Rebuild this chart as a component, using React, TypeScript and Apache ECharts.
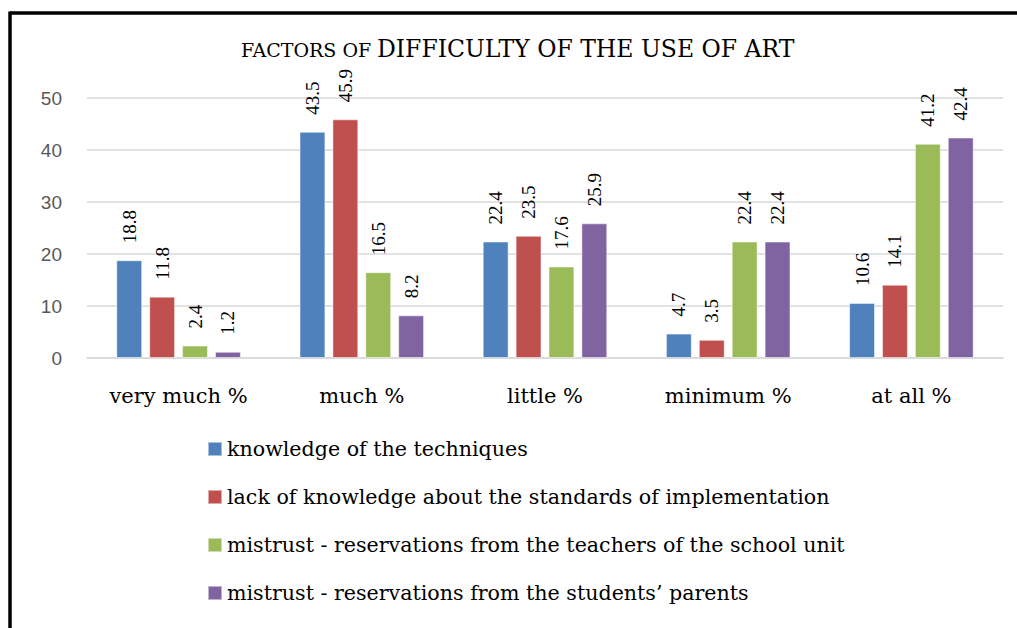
import React, { useEffect, useRef } from "react";
import * as echarts from "echarts";

const categories = ["very much %", "much %", "little %", "minimum %", "at all %"];
const seriesNames = [
  "knowledge of the techniques",
  "lack of knowledge about the standards of implementation",
  "mistrust - reservations from the teachers of the school unit",
  "mistrust - reservations from the students\u2019 parents",
];
const knowledge = [18.8, 43.5, 22.4, 4.7, 10.6];
const lackStandards = [11.8, 45.9, 23.5, 3.5, 14.1];
const mistrustTeachers = [2.4, 16.5, 17.6, 22.4, 41.2];
const mistrustParents = [1.2, 8.2, 25.9, 22.4, 42.4];
const colors = ["#4F81BD", "#C0504D", "#9BBB59", "#8064A2"];
const yTicks = { min: 0, max: 50, interval: 10 };
const titleParts = ["FACTORS OF", "DIFFICULTY OF THE USE OF ART"];

const SERIF = "Liberation Serif";
const WIDE_SERIF = "DejaVu Serif";

export default function App() {
  const ref = useRef<HTMLDivElement>(null);
  useEffect(() => {
    document.body.style.margin = "0";
    if (!ref.current) return;
    const chart = echarts.init(ref.current, undefined, { renderer: "svg" });
    const values = [knowledge, lackStandards, mistrustTeachers, mistrustParents];
    chart.setOption({
      animation: false,
      backgroundColor: "#ffffff",
      title: [
        {
          text: titleParts[0],
          left: 241,
          top: 40,
          padding: 0,
          textStyle: { fontFamily: WIDE_SERIF, fontSize: 19, fontWeight: "normal", color: "#000" },
        },
        {
          text: titleParts[1],
          left: 377,
          top: 37,
          padding: 0,
          textStyle: { fontFamily: WIDE_SERIF, fontSize: 23.5, fontWeight: "normal", color: "#000" },
        },
      ],
      grid: { left: 87, right: 14, top: 98, bottom: 270, containLabel: false },
      legend: {
        orient: "vertical",
        left: 207,
        top: 437,
        padding: 0,
        itemWidth: 14,
        itemHeight: 14,
        itemGap: 24,
        icon: "rect",
        data: seriesNames,
        textStyle: { fontFamily: WIDE_SERIF, fontSize: 20.6, color: "#000", lineHeight: 24 },
      },
      xAxis: {
        type: "category",
        data: categories,
        axisLine: { lineStyle: { color: "#D9D9D9", width: 1.5 } },
        axisTick: { show: false },
        axisLabel: { fontFamily: WIDE_SERIF, fontSize: 21, color: "#000", margin: 27 },
      },
      yAxis: {
        type: "value",
        min: yTicks.min,
        max: yTicks.max,
        interval: yTicks.interval,
        axisLine: { show: false },
        axisTick: { show: false },
        splitLine: { lineStyle: { color: "#D9D9D9", width: 1.5 } },
        axisLabel: {
          fontFamily: "Liberation Sans",
          fontSize: 19,
          color: "#595959",
          margin: 25,
        },
      },
      series: seriesNames.map((name, i) => ({
        name,
        type: "bar",
        data: values[i],
        barGap: "27%",
        barCategoryGap: "32%",
        itemStyle: { color: colors[i], borderColor: "rgba(255,255,255,0.5)", borderWidth: 1 },
        label: {
          show: true,
          position: "top",
          rotate: 90,
          align: "left",
          verticalAlign: "middle",
          distance: 17,
          fontFamily: SERIF,
          fontSize: 19,
          color: "#000",
          formatter: (p: any) => Number(p.value).toFixed(1),
        },
      })),
      graphic: [
        {
          type: "line",
          shape: { x1: 10, y1: 13, x2: 1017, y2: 13 },
          style: { stroke: "#000", lineWidth: 3.5 },
          silent: true,
        },
        {
          type: "line",
          shape: { x1: 10, y1: 11.5, x2: 10, y2: 628 },
          style: { stroke: "#000", lineWidth: 3.5 },
          silent: true,
        },
      ],
    });
    return () => chart.dispose();
  }, []);
  return <div ref={ref} style={{ width: 1017, height: 628 }} />;
}
